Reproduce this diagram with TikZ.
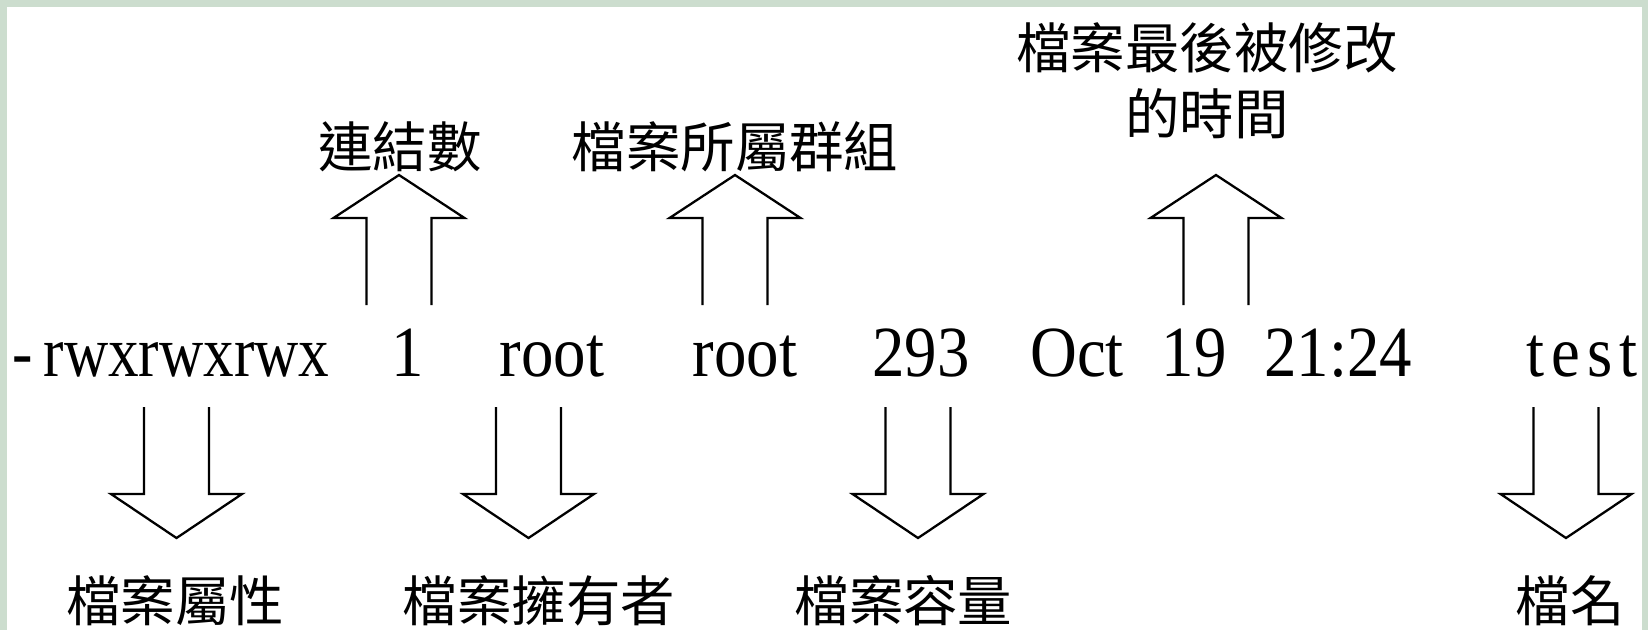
\documentclass[tikz,border=0pt]{standalone}
\usepackage{fontspec}
\newfontfamily\cjk{Noto Sans CJK TC}
\newfontfamily\latin[FakeStretch=0.9]{Liberation Serif}
\definecolor{frameGreen}{RGB}{204,221,206}

\begin{document}
\begin{tikzpicture}[x=0.02cm,y=-0.02cm]
\tikzset{
  field/.style={
    anchor=base,
                   inner sep=0pt,
                   font=\latin\fontsize{41}{41}\selectfont
    },
  caption/.style={
    inner sep=0pt,
                   align=center,
                   font=\cjk\fontsize{31}{37.6}\selectfont
    },
  arrowline/.style={draw=black, line width=1.3pt, line join=miter},
  uparrow/.pic={
    \draw[arrowline] (-32.5,0) -- (-32.5,-87) -- (-65.5,-87) -- (0,-130)
      -- (65.5,-87) -- (32.5,-87) -- (32.5,0);
    },
  downarrow/.pic={
    \draw[arrowline] (-32.5,0) -- (-32.5,87) -- (-65.5,87) -- (0,131)
      -- (65.5,87) -- (32.5,87) -- (32.5,0);
    }
}
    \useasboundingbox (0,0) rectangle (1648,630);
    \fill[frameGreen] (0,0) rectangle (1648,630);
    \fill[white] (7,7) rectangle (1642,630);

    % the listing line
    \node (perm)[field] at (171,376) {\addfontfeature{FakeStretch=0.85}-\kern6pt rwxrwxrwx};
    \node (links)[field] at (408,376) {1};
    \node (owner)[field] at (552,376) {root};
    \node (group)[field] at (745,376) {root};
    \node (size)[field] at (921,376) {293};
    \node (month)[field] at (1077,376) {Oct};
    \node (day)[field] at (1194,376) {19};
    \node (clock)[field] at (1338,376) {21:24};
    \node (fname)[field] at (1582,376) {\addfontfeature{LetterSpace=10}test};

    % labels above
    \node (linksL)[caption] at (400,147) {連結數};
    \node (groupL)[caption] at (735,147) {檔案所屬群組};
    \node (clockL)[caption] at (1207,81) {檔案最後被修改\\的時間};

    % labels below
    \node (permL)[caption] at (175,601) {檔案屬性};
    \node (ownerL)[caption] at (539,601) {檔案擁有者};
    \node (sizeL)[caption] at (903.5,601) {檔案容量};
    \node (fnameL)[caption] at (1570,601) {檔名};

    % hollow arrows
    \coordinate (linksA) at (399,305);
    \coordinate (groupA) at (735,305);
    \coordinate (clockA) at (1216,305);
    \coordinate (permA) at (176.5,407);
    \coordinate (ownerA) at (528.5,407);
    \coordinate (sizeA) at (918,407);
    \coordinate (fnameA) at (1566,407);

    \pic at (linksA) {uparrow};
    \pic at (groupA) {uparrow};
    \pic at (clockA) {uparrow};
    \pic at (permA) {downarrow};
    \pic at (ownerA) {downarrow};
    \pic at (sizeA) {downarrow};
    \pic at (fnameA) {downarrow};

\end{tikzpicture}
\end{document}
